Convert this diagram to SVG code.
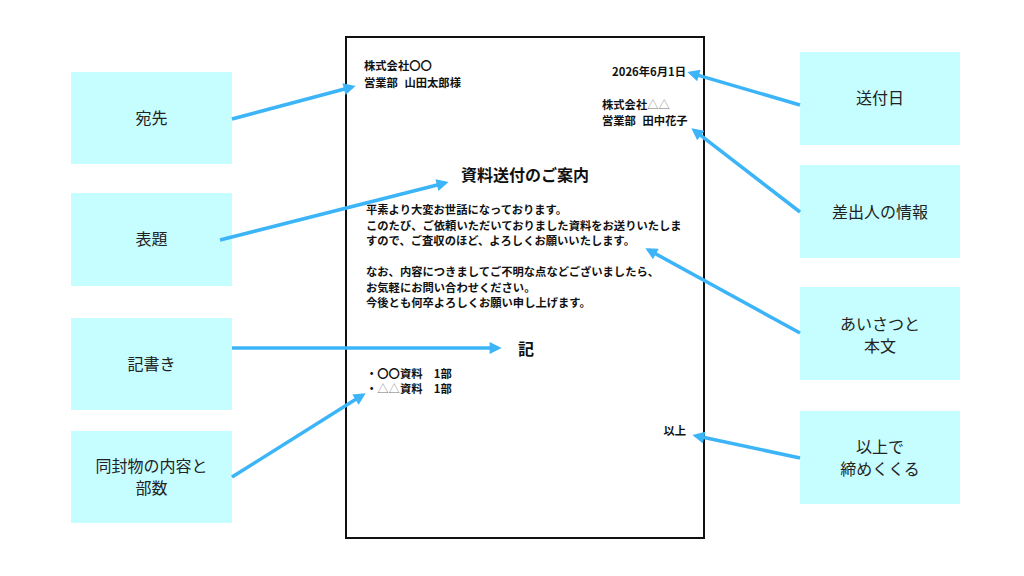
<svg xmlns="http://www.w3.org/2000/svg" width="1024" height="576" viewBox="0 0 1024 576">
<style>
.box{fill:#c6fdff;}
.lbl{font-family:"Noto Sans CJK JP","Noto Sans",sans-serif;font-size:16px;fill:#222;text-anchor:middle;}
.doc{font-family:"Noto Sans CJK JP","Noto Sans",sans-serif;font-size:11.3px;font-weight:bold;fill:#111;}
.ttl{font-family:"Noto Sans CJK JP","Noto Sans",sans-serif;font-size:16px;font-weight:bold;fill:#111;text-anchor:middle;}
.tri{fill:#777;font-weight:normal;}
.arr{stroke:#3cb4f8;stroke-width:3.5;fill:none;marker-end:url(#ah);}
</style>
<defs>
<marker id="ah" viewBox="0 0 10 10" refX="7" refY="5" markerWidth="13" markerHeight="12" markerUnits="userSpaceOnUse" orient="auto">
<path d="M0,0 L10,5 L0,10 z" fill="#3cb4f8"/>
</marker>
</defs>
<rect width="1024" height="576" fill="#ffffff"/>
<g id="document">
<rect x="346" y="37" width="358" height="501" fill="#ffffff" stroke="#111" stroke-width="2"/>
<text class="doc" x="364" y="69.5">株式会社〇〇</text>
<text class="doc" x="364" y="86.5">営業部 <tspan dx="4">山田太郎様</tspan></text>
<text class="doc" x="686" y="76" text-anchor="end">2026年6月1日</text>
<text class="doc" x="602" y="109">株式会社<tspan class="tri">△△</tspan></text>
<text class="doc" x="602" y="125">営業部 <tspan dx="4">田中花子</tspan></text>
<text class="ttl" x="525" y="180.5">資料送付のご案内</text>
<text class="doc" x="366" y="214">平素より大変お世話になっております。</text>
<text class="doc" x="366" y="230">このたび、ご依頼いただいておりました資料をお送りいたしま</text>
<text class="doc" x="366" y="245">すので、ご査収のほど、よろしくお願いいたします。</text>
<text class="doc" x="366" y="276">なお、内容につきましてご不明な点などございましたら、</text>
<text class="doc" x="366" y="291.5">お気軽にお問い合わせください。</text>
<text class="doc" x="366" y="307">今後とも何卒よろしくお願い申し上げます。</text>
<text class="ttl" x="526" y="355">記</text>
<text class="doc" x="366" y="377.5">・〇〇資料　1部</text>
<text class="doc" x="366" y="393">・<tspan class="tri">△△</tspan>資料　1部</text>
<text class="doc" x="686" y="434.5" text-anchor="end">以上</text>
</g>
<g id="node-atesaki"><rect class="box" x="71" y="72" width="161" height="92"/><text class="lbl" x="151.5" y="124">宛先</text></g>
<g id="node-hyodai"><rect class="box" x="71" y="193" width="161" height="93"/><text class="lbl" x="151.5" y="245">表題</text></g>
<g id="node-kigaki"><rect class="box" x="71" y="318" width="161" height="92"/><text class="lbl" x="151.5" y="370">記書き</text></g>
<g id="node-doufuu"><rect class="box" x="71" y="431" width="161" height="92"/><text class="lbl" x="151.5" y="471.5">同封物の内容と</text><text class="lbl" x="151.5" y="493.5">部数</text></g>
<g id="node-soufubi"><rect class="box" x="800" y="52" width="160" height="93"/><text class="lbl" x="880" y="104">送付日</text></g>
<g id="node-sashidashi"><rect class="box" x="800" y="165" width="160" height="93"/><text class="lbl" x="880" y="218">差出人の情報</text></g>
<g id="node-aisatsu"><rect class="box" x="800" y="287" width="160" height="93"/><text class="lbl" x="880" y="329.5">あいさつと</text><text class="lbl" x="880" y="351.5">本文</text></g>
<g id="node-ijou"><rect class="box" x="800" y="411" width="160" height="93"/><text class="lbl" x="880" y="453">以上で</text><text class="lbl" x="880" y="475">締めくくる</text></g>
<g id="connectors">
<line class="arr" x1="232" y1="119" x2="352.1" y2="87"/>
<line class="arr" x1="220" y1="240" x2="445.1" y2="183"/>
<line class="arr" x1="232" y1="348" x2="498" y2="348"/>
<line class="arr" x1="232" y1="477" x2="362.6" y2="395.1"/>
<line class="arr" x1="800" y1="105" x2="690.8" y2="73.1"/>
<line class="arr" x1="800" y1="212" x2="694.2" y2="130.4"/>
<line class="arr" x1="800" y1="333" x2="648.5" y2="249.9"/>
<line class="arr" x1="800" y1="458" x2="695.9" y2="435.8"/>
</g>
</svg>
